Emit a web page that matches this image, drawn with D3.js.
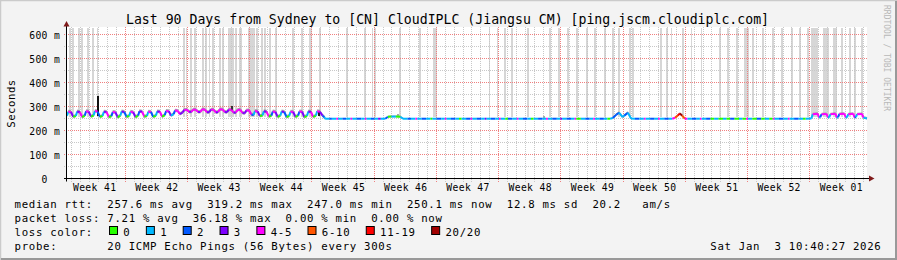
<!DOCTYPE html>
<html><head><meta charset="utf-8">
<script src="https://cdn.jsdelivr.net/npm/d3@7"></script>
<style>
body{margin:0;background:#f3f3f3}
svg{display:block}
text{font-family:"DejaVu Sans Mono",monospace;fill:#000}
</style>
</head><body>
<svg id="chart" width="897" height="260"></svg>
<script>
// ---------------- data ----------------
const title = "Last 90 Days from Sydney to [CN] CloudIPLC (Jiangsu CM) [ping.jscm.cloudiplc.com]";
const weekLabels = ["Week 41","Week 42","Week 43","Week 44","Week 45","Week 46","Week 47","Week 48","Week 49","Week 50","Week 51","Week 52","Week 01"];
const yTicks = [0,100,200,300,400,500,600];          // ms
const yMinorTicks = [50,150,250,350,450,550];         // ms
const spanDays = 90;
const firstMidnight = 0.555;   // day offset of first day boundary
const firstWeek = 6.555;       // day offset of first week boundary
const lossBins = ["0","1","2","3","4-5","6-10","11-19","20/20"];
const lossColors = ["#26ff00","#00b8ff","#0059ff","#7e00ff","#ff00ff","#ff5500","#ff0000","#a10000"];
const rttStats = ["257.6 ms avg","319.2 ms max","247.0 ms min","250.1 ms now","12.8 ms sd","20.2   am/s"];
const lossStats = ["7.21 % avg","36.18 % max","0.00 % min","0.00 % now"];
const probeText = "20 ICMP Echo Pings (56 Bytes) every 300s";
const stamp = "Sat Jan  3 10:40:27 2026";

// median rtt: [day offset, ms, lost pings]
const median = [
[0.00,262,1],[0.15,278,4],[0.45,277,3],[0.70,257,0],
[1.00,261,1],[1.15,279,3],[1.45,276,4],[1.70,256,0],
[2.00,262,2],[2.15,280,4],[2.45,278,3],[2.70,258,0],
[3.00,263,1],[3.15,281,4],[3.45,279,2],[3.70,257,0],
[4.00,261,1],[4.15,278,3],[4.45,277,4],[4.70,256,0],
[5.00,260,2],[5.15,277,4],[5.45,276,3],[5.70,255,0],
[6.00,262,1],[6.15,279,3],[6.45,277,2],[6.70,257,0],
[7.00,261,1],[7.15,278,4],[7.45,276,3],[7.70,256,0],
[8.00,262,2],[8.15,280,3],[8.45,278,4],[8.70,258,0],
[9.00,261,1],[9.15,278,4],[9.45,277,2],[9.70,257,0],
[10.00,262,1],[10.15,279,3],[10.45,278,4],[10.70,258,0],
[11.00,264,2],[11.15,281,4],[11.45,280,3],[11.70,262,1],
[12.00,268,2],[12.15,283,4],[12.45,282,4],[12.70,268,3],
[13.00,275,3],[13.20,286,4],[13.50,286,5],[13.75,277,3],
[14.00,278,4],[14.20,287,5],[14.50,286,4],[14.75,277,3],
[15.00,277,4],[15.20,288,5],[15.50,287,4],[15.75,276,3],
[16.00,276,3],[16.20,287,4],[16.50,286,5],[16.75,275,3],
[17.00,277,4],[17.20,288,5],[17.50,288,4],[17.75,277,3],
[18.00,276,3],[18.20,287,4],[18.50,286,5],[18.75,274,3],
[19.00,275,4],[19.20,286,5],[19.50,286,4],[19.75,273,3],
[20.00,272,3],[20.20,284,4],[20.50,283,4],[20.75,266,2],
[21.00,265,1],[21.15,281,4],[21.45,279,3],[21.70,260,0],
[22.00,263,1],[22.15,280,3],[22.45,278,4],[22.70,258,0],
[23.00,262,2],[23.15,279,4],[23.45,277,3],[23.70,257,0],
[24.00,262,1],[24.15,279,3],[24.45,277,2],[24.70,256,0],
[25.00,261,1],[25.15,278,4],[25.45,277,3],[25.70,257,0],
[26.00,262,2],[26.15,279,4],[26.45,278,3],[26.70,256,0],
[27.00,261,1],[27.15,279,3],[27.45,277,4],[27.70,257,0],
[28.00,262,1],[28.15,280,4],[28.45,278,3],[28.75,262,2],
[28.95,255,1],[29.05,249,1],
[29.5,249,2],[29.8,249,1],[30.3,249,4],[30.5,249,1],[31.0,249,2],[31.4,249,1],[31.9,249,4],[32.1,249,1],
[32.6,249,2],[33.1,249,1],[33.5,249,4],[33.7,249,1],[34.2,249,2],[34.6,249,1],[35.0,249,3],[35.3,249,1],[35.8,249,2],
[36.1,257,0],[36.5,258,1],[37.0,258,0],[37.5,257,1],[37.8,249,1],
[38.3,249,2],[38.7,249,1],[39.2,249,4],[39.4,249,1],[39.9,249,2],[40.4,249,1],[40.9,249,0],[41.1,249,1],
[41.6,249,2],[42.1,249,1],[42.5,249,4],[42.7,249,1],[43.2,249,2],[43.7,249,1],[44.1,249,0],[44.4,249,1],
[44.9,249,2],[45.4,249,4],[45.6,249,1],[46.1,249,2],[46.6,249,1],[47.0,249,3],[47.2,249,1],[47.7,249,2],
[48.2,249,1],[48.6,249,4],[48.8,249,1],[49.3,249,0],[49.6,249,2],[50.1,249,1],[50.6,249,4],[50.8,249,1],
[51.3,249,2],[51.8,249,1],[52.2,249,0],[52.5,249,1],[53.0,249,2],[53.5,249,1],[53.9,249,4],[54.1,249,1],
[54.6,249,2],[55.1,249,1],[55.5,249,3],[55.7,249,1],[56.2,249,2],[56.7,249,1],[57.1,249,4],[57.3,249,0],
[57.8,249,1],[58.3,249,2],[58.8,249,1],[59.2,249,4],[59.4,249,1],[59.9,249,2],[60.4,249,1],[60.8,249,0],[61.1,249,1],
[61.4,252,2],[61.8,266,2],[62.1,274,1],[62.5,256,1],[62.7,262,2],[63.1,274,1],[63.45,250,1],
[63.9,249,2],[64.4,249,1],[64.9,249,4],[65.1,249,1],[65.6,249,2],[66.1,249,1],[66.5,249,4],[66.7,249,1],[67.2,249,2],[67.7,249,1],[68.1,249,4],
[68.4,253,6],[68.7,262,12],[68.95,271,20],[69.2,262,8],[69.5,249,4],
[69.8,249,1],[70.3,249,2],[70.8,249,1],[71.2,249,4],[71.4,249,1],[71.9,249,2],[72.4,249,0],[72.8,249,1],
[73.3,249,0],[73.8,249,1],[74.2,249,0],[74.6,249,2],[75.1,249,0],[75.6,249,1],[76.0,249,0],[76.4,249,4],
[76.6,249,1],[77.1,249,0],[77.6,249,2],[78.1,249,0],[78.5,249,1],[79.0,249,0],[79.4,249,4],[79.6,249,1],
[80.1,249,2],[80.6,249,1],[81.1,249,4],[81.3,249,1],[81.8,249,2],[82.3,249,1],[82.8,249,0],[83.1,249,1],
[83.75,250,1],[83.9,268,4],[84.45,270,4],[84.6,254,1],[84.75,256,2],[84.9,268,4],[85.45,269,5],[85.6,254,1],
[85.75,255,1],[85.9,268,4],[86.45,270,4],[86.6,253,1],[86.75,256,2],[86.9,269,5],[87.45,270,4],[87.6,254,1],
[87.75,255,1],[87.9,268,4],[88.45,270,4],[88.6,254,2],[88.75,256,1],[88.9,268,4],[89.45,269,4],[89.6,253,1],
[89.8,252,1],[90.0,250,1]
];

// samples whose smoke reaches above the top of the graph (day offsets)
const smokeSpikes = [
0.34,0.67,1.35,1.69,2.36,2.92,3.43,
13.16,13.44,13.95,14.40,15.30,15.64,16.03,16.42,17.21,17.55,18.22,18.39,18.56,18.73,19.01,19.41,19.57,
20.47,20.64,20.81,21.04,21.37,21.94,
22.28,22.84,23.51,25.42,26.44,27.34,27.51,28.46,31.5,33.52,34.37,34.65,37.46,39.71,41.28,41.51,
47.54,48.43,49.27,50.06,51.86,54.34,55.35,56.36,57.37,58.5,59.4,60.52,61.42,62.1,63.34,63.68,
66.83,67.5,68.01,69.3,70.26,71.38,73.46,74.36,75.38,76.28,76.44,76.61,77.18,78.3,79.43,80.44,
81.56,82.46,83.36,83.76,83.93,84.16,84.38,85.17,85.39,85.61,86.29,86.52,87.19,88.09,88.65,89.44
];
// smoke spread around the median: [from day, to day, ms below, ms above]
const smokeSpread = [[0,29.1,6,8],[36.0,37.9,3,4],[61.3,63.5,4,6],[68.3,69.6,4,5],[83.6,90,4,6]];
// isolated dense smoke: [day, low ms, high ms, shade]
const denseSmoke = [[3.43,262,342,"#111"],[18.56,284,303,"#333"],[28.3,262,282,"#222"],[53.7,249,262,"#aaa"],[37.2,258,268,"#aaa"]];

// ---------------- drawing ----------------
const svg = d3.select("#chart");
const W = 897, H = 260;
const P = {left:67, right:867, top:27.5, bottom:178.5};
const x = d3.scaleLinear().domain([0, spanDays]).range([P.left, P.right]);
const y = d3.scaleLinear().domain([0, 629]).range([P.bottom, P.top]);
const px = v => Math.round(v - 0.5) + 0.5;
const lossIndex = n => n === 0 ? 0 : n === 1 ? 1 : n === 2 ? 2 : n === 3 ? 3 : n <= 5 ? 4 : n <= 10 ? 5 : n <= 19 ? 6 : 7;

// background & frame
svg.append("rect").attr("width", W).attr("height", H).attr("fill", "#f3f3f3");
svg.append("path").attr("d", `M0.5,${H}V0.5H${W}`).attr("stroke", "#cbcbcb").attr("stroke-width", 1.5).attr("fill", "none");
svg.append("path").attr("d", `M1,${H-1}H${W-1}V1`).attr("stroke", "#999").attr("stroke-width", 2).attr("fill", "none");

// canvas
svg.append("rect").attr("x", P.left).attr("y", 27).attr("width", P.right - P.left).attr("height", 151).attr("fill", "#fff");

// smoke spikes
svg.append("g").attr("shape-rendering", "crispEdges").selectAll("rect").data(smokeSpikes).join("rect")
  .attr("x", d => x(d) - 0.9).attr("width", d => x(d + 0.2) - x(d))
  .attr("y", y(629)).attr("height", y(255) - y(629))
  .attr("fill", "#c4c4c4").attr("fill-opacity", 0.7);

// grid
const grid = svg.append("g").attr("shape-rendering", "crispEdges").attr("fill", "none");
const dayLines = d3.range(firstMidnight, spanDays, 1).filter(d => Math.abs(((d - firstWeek) % 7 + 7) % 7) > 0.01);
const weekLines = d3.range(firstWeek, spanDays, 7);
grid.selectAll(".hmin").data(yMinorTicks).join("line")
  .attr("x1", P.left - 3).attr("x2", P.right).attr("y1", d => px(y(d))).attr("y2", d => px(y(d)))
  .attr("stroke", "#c8c8c8").attr("stroke-dasharray", "1,1");
grid.selectAll(".vmin").data(dayLines).join("line")
  .attr("y1", 27).attr("y2", P.bottom + 3).attr("x1", d => px(x(d))).attr("x2", d => px(x(d)))
  .attr("stroke", "#c8c8c8").attr("stroke-dasharray", "1,1");
grid.selectAll(".hmaj").data(yTicks.filter(d => d > 0)).join("line")
  .attr("x1", P.left - 3).attr("x2", P.right).attr("y1", d => px(y(d))).attr("y2", d => px(y(d)))
  .attr("stroke", "#f08080").attr("stroke-dasharray", "1,1");
grid.selectAll(".vmaj").data(weekLines).join("line")
  .attr("y1", 27).attr("y2", P.bottom + 3).attr("x1", d => px(x(d))).attr("x2", d => px(x(d)))
  .attr("stroke", "#f08080").attr("stroke-dasharray", "1,1");

// smoke band around median
smokeSpread.forEach(([a, b, lo, hi]) => {
  const pts = median.filter(p => p[0] >= a && p[0] <= b);
  svg.append("path").datum(pts)
    .attr("d", d3.area().x(p => x(p[0])).y0(p => y(p[1] - lo)).y1(p => y(p[1] + hi)))
    .attr("fill", "#8a8a8a").attr("fill-opacity", 0.7);
});
svg.append("g").attr("shape-rendering", "crispEdges").selectAll("rect").data(denseSmoke).join("rect")
  .attr("x", d => x(d[0]) - 0.9).attr("width", d => x(d[0] + 0.22) - x(d[0]))
  .attr("y", d => y(d[2])).attr("height", d => y(d[1]) - y(d[2])).attr("fill", d => d[3]);

// median line coloured by loss
const seg = d3.line().x(p => x(p[0])).y(p => y(p[1]));
svg.append("g").attr("fill", "none").attr("stroke-width", 2).attr("stroke-linecap", "butt")
  .selectAll("path").data(d3.pairs(median)).join("path")
  .attr("d", d => seg(d)).attr("stroke", d => lossColors[lossIndex(d[0][2])]);

// axes lines & arrows
svg.append("line").attr("x1", P.left - 3).attr("x2", 870).attr("y1", P.bottom).attr("y2", P.bottom).attr("stroke", "#000");
svg.append("line").attr("x1", 66.5).attr("x2", 66.5).attr("y1", P.bottom + 3).attr("y2", 25).attr("stroke", "#000");
svg.append("path").attr("d", "M869,175.5L874.5,178.5L869,181.5Z").attr("fill", "#7f1a1a");
svg.append("path").attr("d", "M63.5,26.5L66.5,21L69.5,26.5Z").attr("fill", "#7f1a1a");

// y axis labels
const yAxis = svg.append("g").attr("transform", "translate(66.5,0)")
  .call(d3.axisLeft(y).tickValues(yTicks).tickSize(0).tickPadding(6.3).tickFormat(d => d ? d + " m" : "0"));
yAxis.select(".domain").remove();
yAxis.selectAll("text").attr("font-family", "DejaVu Sans Mono").attr("font-size", 9.7)
  .style("letter-spacing", "0.36px").attr("dy", "0.4em").attr("fill", "#000")
  .attr("dx", d => d ? 0 : -12.4);

// week labels
const weekCenters = weekLabels.map((_, i) => firstWeek - 3.5 + 7 * i);
const xAxis = svg.append("g").attr("transform", `translate(0,${P.bottom})`)
  .call(d3.axisBottom(x).tickValues(weekCenters).tickSize(0).tickPadding(5.6).tickFormat((d, i) => weekLabels[i]));
xAxis.select(".domain").remove();
xAxis.selectAll("text").attr("font-family", "DejaVu Sans Mono").attr("font-size", 9.7)
  .style("letter-spacing", "0.36px").attr("fill", "#000");

// title
svg.append("text").attr("x", 447.5).attr("y", 23.6).attr("text-anchor", "middle")
  .attr("font-size", 13.2).text(title);

// vertical labels
svg.append("text").attr("transform", "translate(15,103.5) rotate(-90)").attr("text-anchor", "middle")
  .attr("font-size", 10.7).style("letter-spacing", "0.5px").text("Seconds");
svg.append("text").attr("transform", "translate(883.5,5) rotate(90)").attr("text-anchor", "start")
  .attr("font-size", 8).style("fill", "#b8b8b8").text("RRDTOOL / TOBI OETIKER");

// legend
const LX = 14.5, CW = 7.14;
const lg = svg.append("g").attr("font-size", 10.7).style("letter-spacing", "0.7px");
const addLine = (txt, yy) => lg.append("text").attr("x", LX).attr("y", yy)
  .attr("xml:space", "preserve").style("white-space", "pre").text(txt);
addLine("median rtt:  " + rttStats.join("  "), 207.5);
addLine("packet loss: " + lossStats.join("  "), 221.5);
addLine("loss color:", 235.5);
addLine("probe:       " + probeText, 249.5);
lg.append("text").attr("x", 881.5).attr("y", 249.5).attr("text-anchor", "end")
  .attr("xml:space", "preserve").style("white-space", "pre").text(stamp);

let cursor = LX + 13 * CW + 1.7;
lossBins.forEach((lab, i) => {
  lg.append("rect").attr("x", cursor + 0.5).attr("y", 226.5).attr("width", 8).attr("height", 8)
    .attr("fill", lossColors[i]).attr("stroke", "#000").attr("stroke-width", 1);
  const lx = cursor + 14.3;
  lg.append("text").attr("x", lx).attr("y", 235.5).text(lab);
  cursor = lx + lab.length * CW + 15.4;
});
</script>
</body></html>
